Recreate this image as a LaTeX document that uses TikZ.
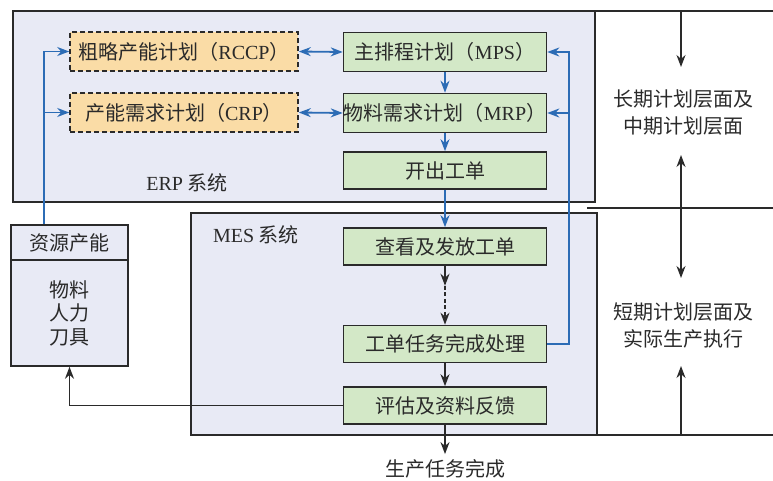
\documentclass[tikz,border=0pt]{standalone}
\usepackage{fontspec}
\setmainfont{Noto Sans CJK SC}
\newfontfamily\latin{Liberation Serif}
\usetikzlibrary{arrows.meta}
\definecolor{panel}{HTML}{E8EAF5}
\definecolor{capfill}{HTML}{FADCA6}
\definecolor{planfill}{HTML}{D3E8C7}
\definecolor{flow}{HTML}{2C6CB5}
\definecolor{ink}{HTML}{2A2A2A}
\tikzset{
  tip/.tip={Stealth[length=12pt,width=9pt]},
  panelbox/.style={draw=ink, line width=1.6pt, fill=panel, inner sep=0pt},
  planbox/.style={draw=ink, line width=1.6pt, fill=planfill, minimum width=203pt, minimum height=39pt, inner sep=0pt},
  capbox/.style={draw=ink, line width=1.6pt, dash pattern=on 5pt off 3pt, fill=capfill, minimum width=228pt, minimum height=39pt, inner sep=0pt},
  bl/.style={draw=flow, line width=1.8pt, -tip},
  bk/.style={draw=ink, line width=1.8pt, -tip},
  rule/.style={draw=ink, line width=1.3pt},
}
\begin{document}
\begin{tikzpicture}[x=1pt,y=-1pt, font=\fontsize{20}{24}\selectfont, text=ink]
\useasboundingbox (0,0) rectangle (773,481);

% system panels
\node[panelbox, minimum width=582pt, minimum height=191pt] (erp) at (304,106.5) {};
\node[panelbox, minimum width=406pt, minimum height=222pt] (mes) at (394,324) {};
\node (erplbl) at (187,183) {{\latin ERP} 系统};
\node (meslbl) at (256,235) {{\latin MES} 系统};

% level rules on the right
\coordinate (r1) at (595,11);
\coordinate (r1e) at (773,11);
\coordinate (r2) at (587,208);
\coordinate (r2e) at (773,208);
\coordinate (r3) at (597,435);
\coordinate (r3e) at (773,435);
\draw[rule] (r1) -- (r1e);
\draw[rule] (r2) -- (r2e);
\draw[rule] (r3) -- (r3e);

% capacity planning
\node[capbox] (rccp) at (184,51.5) {粗略产能计划（{\latin RCCP}）};
\node[capbox] (crp) at (184,112.5) {产能需求计划（{\latin CRP}）};

% planning chain
\node[planbox] (mps) at (445,52) {主排程计划（{\latin MPS}）};
\node[planbox] (mrp) at (445,113) {物料需求计划（{\latin MRP}）};
\node[planbox, minimum height=37pt] (wo) at (445,170.5) {开出工单};
\node[planbox, minimum height=37pt] (check) at (445,246.5) {查看及发放工单};
\node[planbox, minimum height=37pt] (proc) at (445,344) {工单任务完成处理};
\node[planbox, minimum height=37pt] (eval) at (445,405.5) {评估及资料反馈};
\node (done) at (445,469) {生产任务完成};

% resources
\node[panelbox, minimum width=117pt, minimum height=35pt] (reshead) at (69.5,242.5) {资源产能};
\node[panelbox, minimum width=117pt, minimum height=106pt] (resbody) at (69.5,313) {};
\node[align=center, font=\fontsize{20}{23.5}\selectfont] (reslist) at (69.5,313) {物料\\人力\\刀具};

% blue flows
\coordinate (tap) at ([xshift=34pt]reshead.north west);
\draw[bl] (tap) |- (rccp.west);
\draw[bl] (tap |- crp.west) -- (crp.west);
\draw[bl, tip-tip] (rccp.east) -- (mps.west);
\draw[bl, tip-tip] (crp.east) -- (mrp.west);
\draw[bl] (mps) -- (mrp);
\draw[bl] (mrp) -- (wo);
\draw[bl] (wo) -- (check);
\coordinate (fb) at ([xshift=22pt]proc.east);
\draw[bl] (proc.east) -- (fb) |- (mps.east);
\draw[bl] (fb |- mrp.east) -- (mrp.east);

% black flows
\coordinate (mid) at ([yshift=-20pt]check.south);
\draw[bk] (check.south) -- (mid);
\draw[bk, dash pattern=on 4pt off 2.5pt] (mid) -- (proc.north);
\draw[bk] (proc) -- (eval);
\draw[bk] (eval.south) -- ([yshift=2pt]done.north);
\draw[bk] (eval.west) -| (resbody.south);

% planning levels
\node[align=center, font=\fontsize{20}{27}\selectfont] (longterm) at (683,113) {长期计划层面及\\中期计划层面};
\node[align=center, font=\fontsize{20}{27}\selectfont] (shortterm) at (683,325) {短期计划层面及\\实际生产执行};
\coordinate (a1) at (681,11);
\coordinate (a1t) at (681,67);
\coordinate (a2) at (681,208);
\coordinate (a2t) at (681,155);
\coordinate (a3t) at (681,278);
\coordinate (a4) at (681,435);
\coordinate (a4t) at (681,366);
\draw[bk] (a1) -- (a1t);
\draw[bk] (a2) -- (a2t);
\draw[bk] (a2) -- (a3t);
\draw[bk] (a4) -- (a4t);
\end{tikzpicture}
\end{document}
